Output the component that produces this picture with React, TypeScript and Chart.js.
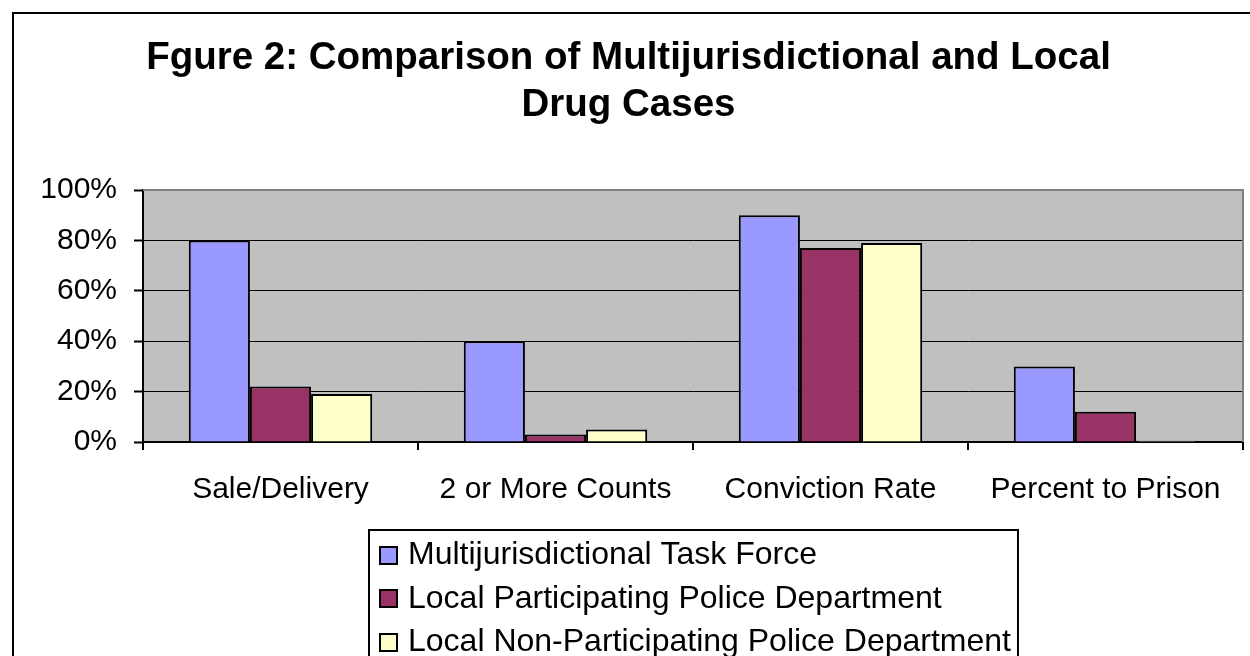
import React, { useEffect, useRef } from "react";
import { Chart, registerables } from "chart.js";

Chart.register(...registerables);

// Chart content
const titleLines = ["Fgure 2: Comparison of Multijurisdictional and Local", "Drug Cases"];
const categories = ["Sale/Delivery", "2 or More Counts", "Conviction Rate", "Percent to Prison"];
const seriesNames = [
  "Multijurisdictional Task Force",
  "Local Participating Police Department",
  "Local Non-Participating Police Department",
];
const taskForce = [80, 40, 90, 30];
const participatingDept = [22, 3, 77, 12];
const nonParticipatingDept = [19, 5, 79, 0.5];
const seriesColors = ["#9999FF", "#993366", "#FFFFCC"];
const yMin = 0;
const yMax = 100;
const yStep = 20;

const FONT = "'Liberation Sans', Arial, Helvetica, sans-serif";

// Grey plot-area fill behind grid and bars
const plotBackground = {
  id: "plotBackground",
  beforeDraw(chart: any) {
    const { ctx, chartArea } = chart;
    ctx.save();
    ctx.fillStyle = "#C0C0C0";
    ctx.fillRect(chartArea.left, chartArea.top, chartArea.right - chartArea.left, chartArea.bottom - chartArea.top);
    ctx.restore();
  },
};

// Grey frame on the top and right sides of the plot area
const plotFrame = {
  id: "plotFrame",
  beforeDatasetsDraw(chart: any) {
    const { ctx, chartArea } = chart;
    ctx.save();
    ctx.strokeStyle = "#808080";
    ctx.lineWidth = 2;
    ctx.beginPath();
    ctx.moveTo(chartArea.left, chartArea.top);
    ctx.lineTo(chartArea.right, chartArea.top);
    ctx.lineTo(chartArea.right, chartArea.bottom);
    ctx.stroke();
    ctx.restore();
  },
};

// Stacked legend inside a black box, centred under the plot area
const boxedLegend = {
  id: "boxedLegend",
  afterDraw(chart: any) {
    const { ctx, chartArea } = chart;
    const datasets = chart.data.datasets;
    const fontSize = 32;
    const rowGap = 43.7;
    const boxTop = 516;
    const firstRow = 541;
    const padLeft = 10;
    const marker = 19;
    const markerGap = 10;
    const padRight = 7;
    ctx.save();
    ctx.font = `${fontSize}px ${FONT}`;
    let maxText = 0;
    datasets.forEach((ds: any) => {
      maxText = Math.max(maxText, ctx.measureText(ds.label).width);
    });
    const boxWidth = padLeft + marker + markerGap + maxText + padRight;
    const boxLeft = Math.round((chartArea.left + chartArea.right) / 2 - boxWidth / 2);
    ctx.strokeStyle = "#000";
    ctx.lineWidth = 2;
    ctx.strokeRect(boxLeft, boxTop, boxWidth, 200);
    datasets.forEach((ds: any, i: number) => {
      const cy = firstRow + i * rowGap;
      const mx = boxLeft + padLeft;
      const my = Math.round(cy - marker / 2);
      ctx.fillStyle = ds.backgroundColor;
      ctx.fillRect(mx, my, marker, marker);
      ctx.strokeStyle = "#000";
      ctx.lineWidth = 2;
      ctx.strokeRect(mx + 1, my + 1, marker - 2, marker - 2);
      ctx.fillStyle = "#000";
      ctx.textAlign = "left";
      ctx.textBaseline = "middle";
      ctx.fillText(ds.label, mx + marker + markerGap, cy);
    });
    ctx.restore();
  },
};

function BarChart() {
  const canvasRef = useRef<HTMLCanvasElement | null>(null);

  useEffect(() => {
    const canvas = canvasRef.current;
    if (!canvas) return;
    const seriesValues = [taskForce, participatingDept, nonParticipatingDept];
    const chart = new Chart(canvas, {
      type: "bar",
      data: {
        labels: categories,
        datasets: seriesValues.map((values, i) => ({
          label: seriesNames[i],
          data: values,
          backgroundColor: seriesColors[i],
          borderColor: "#000",
          borderWidth: 2,
          borderSkipped: "start",
          categoryPercentage: 0.667,
          barPercentage: 1,
        })),
      },
      options: {
        responsive: false,
        animation: false,
        devicePixelRatio: 1,
        layout: { padding: { top: 0, left: 0, right: 7, bottom: 134 } },
        plugins: {
          legend: { display: false },
          tooltip: { enabled: false },
          title: {
            display: true,
            text: titleLines,
            color: "#000",
            font: { family: FONT, size: 38.5, weight: "bold", lineHeight: 1.221 },
            padding: { top: 21, bottom: 61 },
          },
        },
        scales: {
          x: {
            offset: true,
            grid: {
              display: true,
              drawOnChartArea: false,
              drawTicks: true,
              tickLength: 8,
              color: "#000",
              lineWidth: 2,
            },
            border: { display: true, color: "#000", width: 2 },
            ticks: {
              color: "#000",
              padding: 22,
              maxRotation: 0,
              autoSkip: false,
              font: { family: FONT, size: 30 },
            },
            afterFit: (scale: any) => {
              scale.height = 80;
            },
          },
          y: {
            min: yMin,
            max: yMax,
            grid: {
              color: (c: any) => (c.tick && c.tick.value === yMax ? "#808080" : "#000"),
              lineWidth: 1,
              tickColor: "#000",
              tickWidth: 2,
              tickLength: 9,
              drawTicks: true,
            },
            border: { display: true, color: "#000", width: 2 },
            ticks: {
              stepSize: yStep,
              color: "#000",
              padding: 17,
              font: { family: FONT, size: 30 },
              callback: (v: any) => `${v}%`,
            },
            afterFit: (scale: any) => {
              scale.width = 129;
            },
          },
        },
      },
      plugins: [plotBackground, plotFrame, boxedLegend],
    } as any);
    return () => chart.destroy();
  }, []);

  return <canvas ref={canvasRef} width={1236} height={642} style={{ display: "block" }} />;
}

export default function App() {
  return (
    <div
      style={{
        position: "absolute",
        left: 12,
        top: 12,
        width: 1236,
        height: 642,
        borderLeft: "2px solid #000",
        borderTop: "2px solid #000",
        background: "#fff",
      }}
    >
      <BarChart />
    </div>
  );
}
